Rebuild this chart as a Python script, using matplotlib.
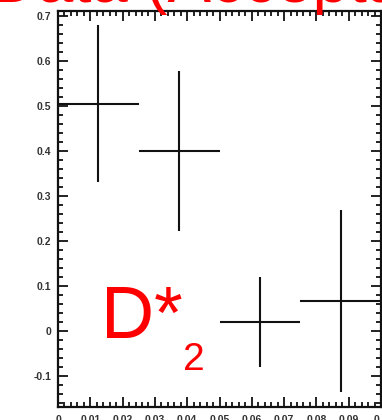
import matplotlib
matplotlib.use("Agg")
import matplotlib.pyplot as plt
from matplotlib.ticker import MultipleLocator, FuncFormatter

# bin centres, half widths, values and errors
x_centers = [0.0125, 0.0375, 0.0625, 0.0875]
x_halfwidth = [0.0125, 0.0125, 0.0125, 0.0125]
y_values = [0.505, 0.40, 0.02, 0.067]
y_errors = [0.175, 0.178, 0.10, 0.202]

title_text = "Data (Acceptance corrected)"
label_main = "D*"
label_sub = "2"

W, H = 382, 420
plt.rcParams["font.family"] = ["Liberation Sans", "DejaVu Sans"]
plt.rcParams["axes.unicode_minus"] = False

fig = plt.figure(figsize=(W / 100, H / 100), dpi=100)
ax = fig.add_axes([58 / W, 13 / H, (381 - 58) / W, (407 - 11) / H])

ax.errorbar(x_centers, y_values, xerr=x_halfwidth, yerr=y_errors,
            fmt="none", ecolor="#111111", elinewidth=1.5, capsize=0,
            clip_on=False)

ax.set_xlim(0, 0.1)
ax.set_ylim(-0.169, 0.711)

ax.xaxis.set_major_locator(MultipleLocator(0.01))
ax.xaxis.set_minor_locator(MultipleLocator(0.002))
ax.yaxis.set_major_locator(MultipleLocator(0.1))
ax.yaxis.set_minor_locator(MultipleLocator(0.02))
fmt = FuncFormatter(lambda v, p: "%g" % round(v, 3))
ax.xaxis.set_major_formatter(fmt)
ax.yaxis.set_major_formatter(fmt)

ax.tick_params(which="both", direction="in", top=True, right=True,
               width=1.3, color="#111111")
ax.tick_params(which="major", length=7, labelsize=7.5, pad=5,
               labelcolor="#333333")
ax.tick_params(axis="x", which="major", pad=6)
ax.tick_params(which="minor", length=3.5)
for lab in ax.get_xticklabels() + ax.get_yticklabels():
    lab.set_fontweight("bold")
for s in ax.spines.values():
    s.set_linewidth(1.6)
    s.set_color("#111111")


def px(x, y):
    return x / W, 1 - y / H


# title sits mostly above the top edge, as in the cropped original
fig.text(*px(-10, 2), title_text, color="red", fontsize=47,
         ha="left", va="baseline")
fig.text(*px(101, 338), label_main, color="red", fontsize=53,
         ha="left", va="baseline")
fig.text(*px(183, 370), label_sub, color="red", fontsize=28,
         ha="left", va="baseline")

fig.savefig("out.png", dpi=100)
